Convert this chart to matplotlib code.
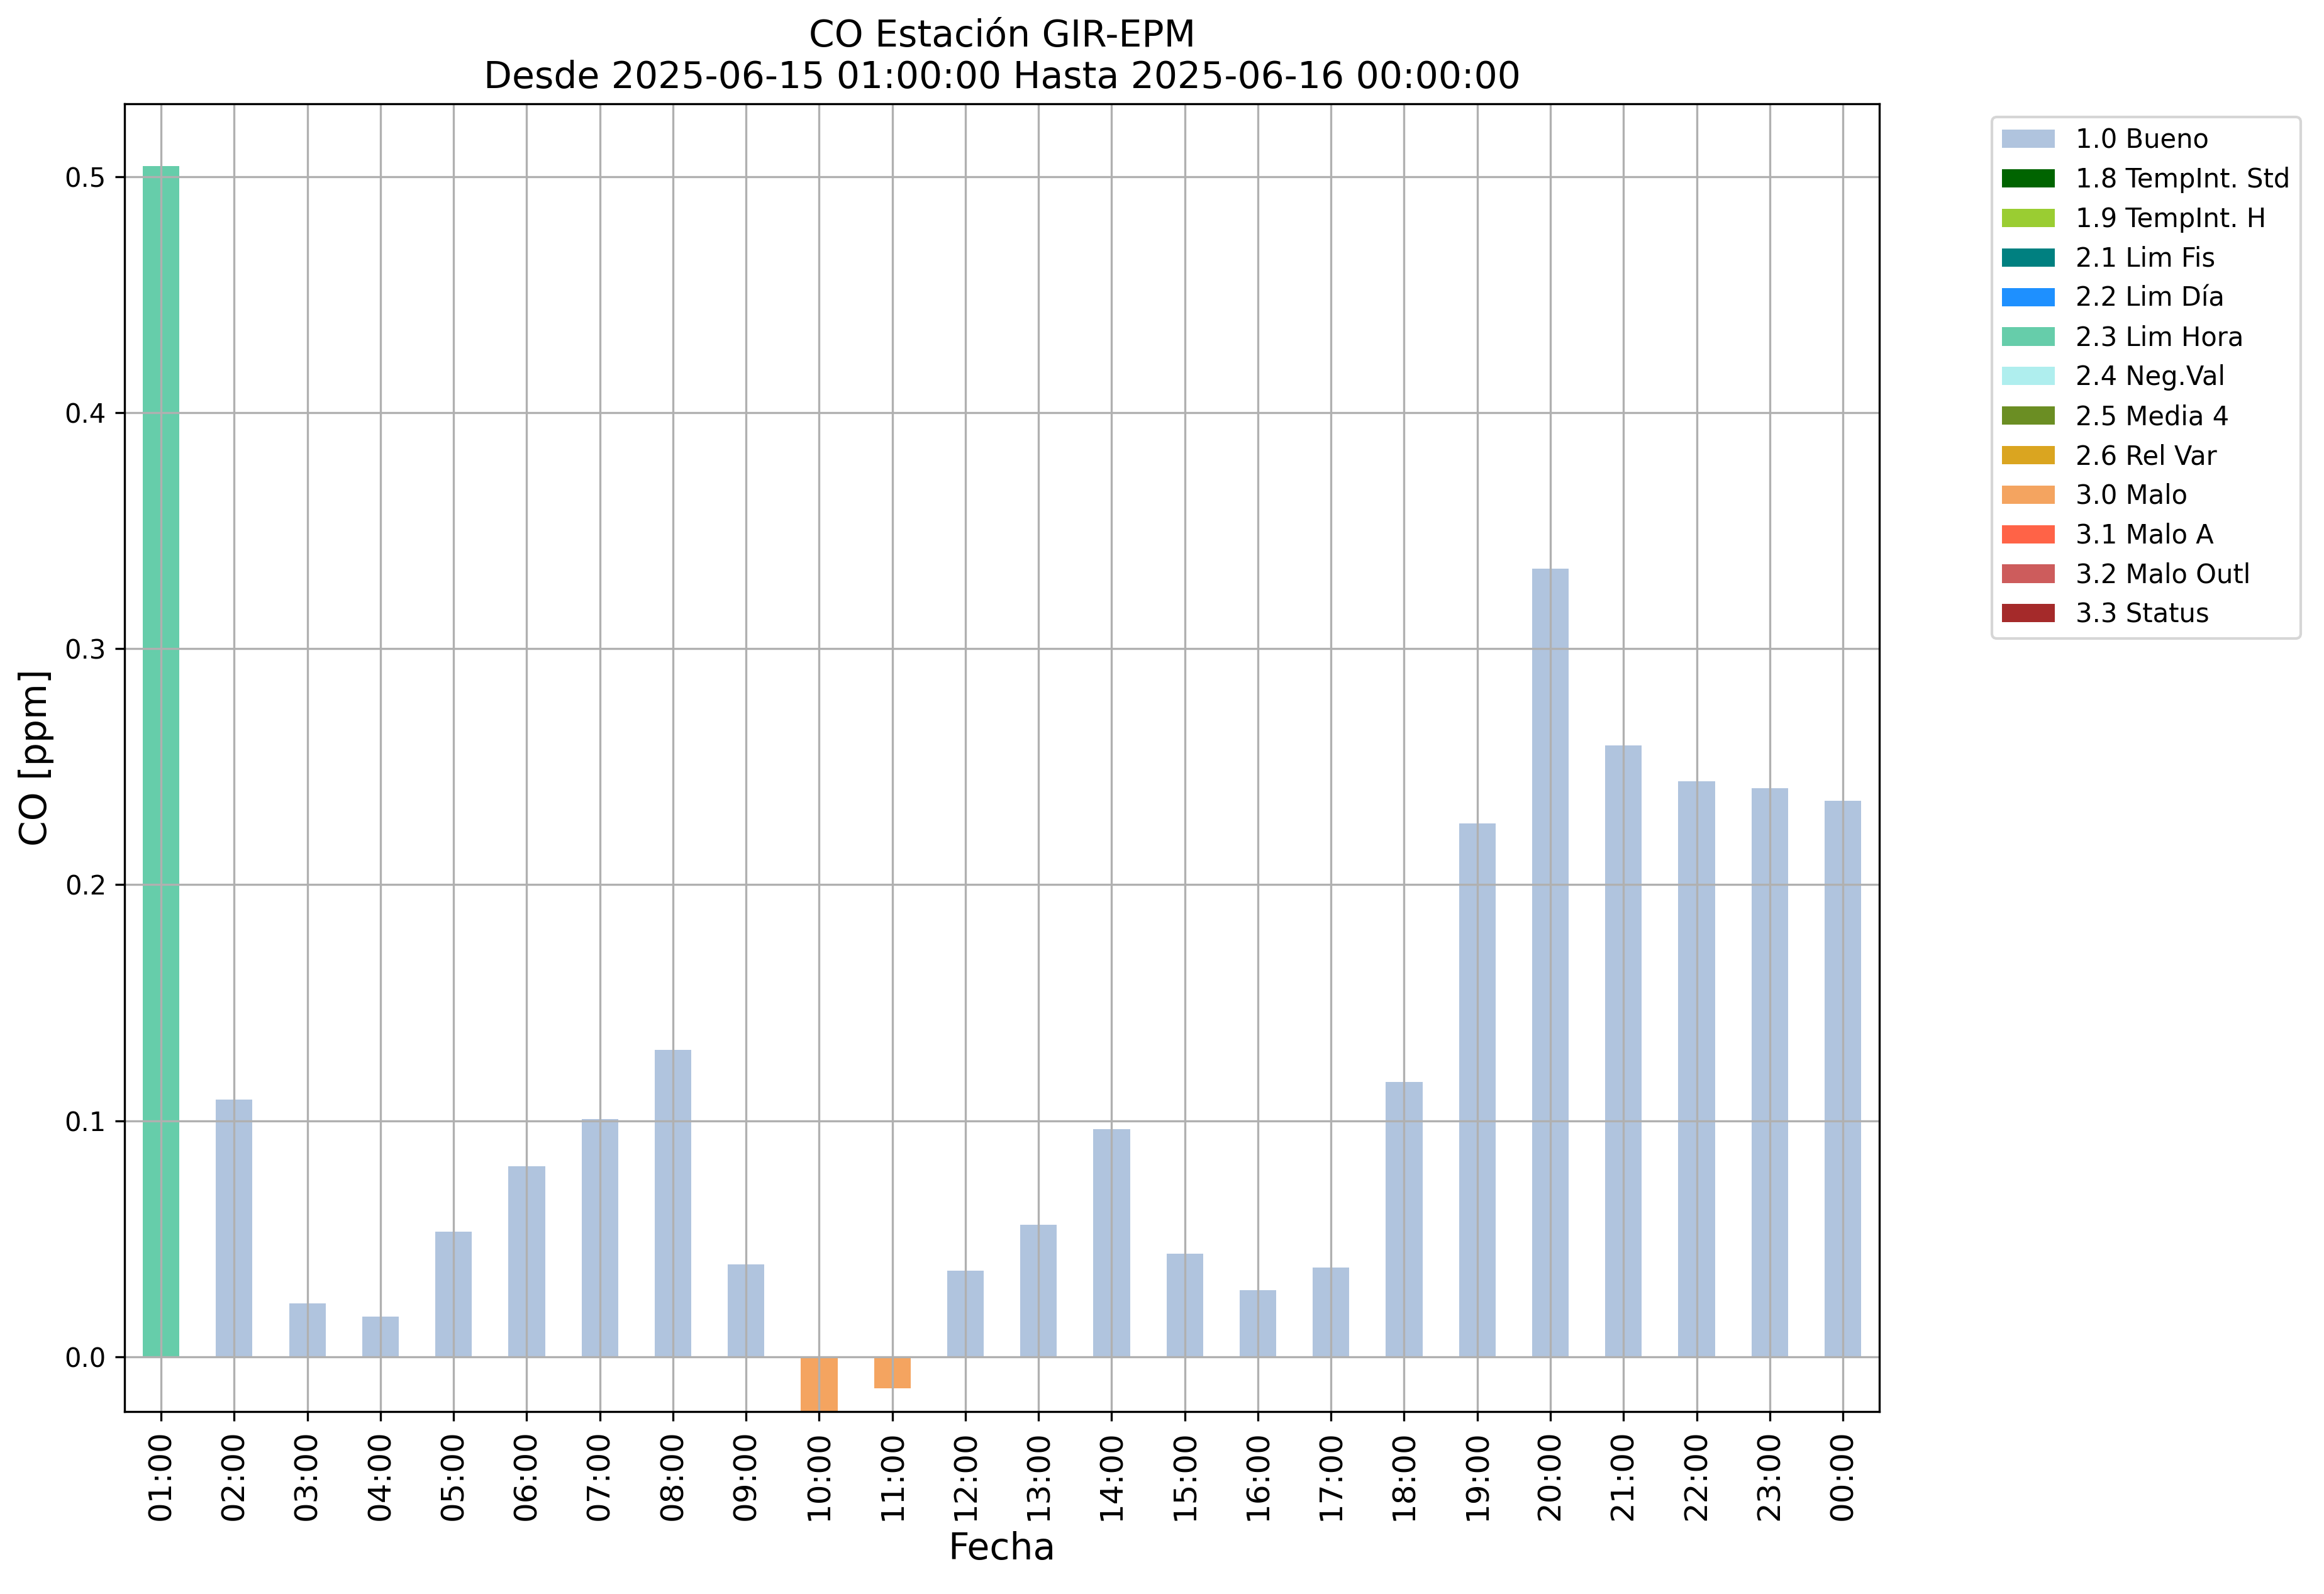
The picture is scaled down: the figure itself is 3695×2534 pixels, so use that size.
import numpy as np
import matplotlib
matplotlib.use('Agg')
from matplotlib import pyplot as plt

# hourly CO values and the quality flag of each hour
horas = ['01:00', '02:00', '03:00', '04:00', '05:00', '06:00', '07:00', '08:00',
         '09:00', '10:00', '11:00', '12:00', '13:00', '14:00', '15:00', '16:00',
         '17:00', '18:00', '19:00', '20:00', '21:00', '22:00', '23:00', '00:00']
co = [0.5045, 0.109, 0.0227, 0.017, 0.0529, 0.0806, 0.1008, 0.130,
      0.039, -0.0233, -0.0133, 0.0365, 0.056, 0.0963, 0.0435, 0.0283,
      0.0378, 0.1165, 0.226, 0.334, 0.259, 0.2437, 0.241, 0.2355]
flags = ['2.3 Lim Hora', '1.0 Bueno', '1.0 Bueno', '1.0 Bueno', '1.0 Bueno', '1.0 Bueno',
         '1.0 Bueno', '1.0 Bueno', '1.0 Bueno', '3.0 Malo', '3.0 Malo', '1.0 Bueno',
         '1.0 Bueno', '1.0 Bueno', '1.0 Bueno', '1.0 Bueno', '1.0 Bueno', '1.0 Bueno',
         '1.0 Bueno', '1.0 Bueno', '1.0 Bueno', '1.0 Bueno', '1.0 Bueno', '1.0 Bueno']

categorias = ['1.0 Bueno', '1.8 TempInt. Std', '1.9 TempInt. H', '2.1 Lim Fis',
              '2.2 Lim Día', '2.3 Lim Hora', '2.4 Neg.Val', '2.5 Media 4',
              '2.6 Rel Var', '3.0 Malo', '3.1 Malo A', '3.2 Malo Outl', '3.3 Status']
colores = ['lightsteelblue', 'darkgreen', 'yellowgreen', 'teal', 'dodgerblue',
           'mediumaquamarine', 'paleturquoise', 'olivedrab', 'goldenrod',
           'sandybrown', 'tomato', 'indianred', 'brown']

fig = plt.figure(figsize=(3695 / 300, 2534 / 300), dpi=300)
ax = fig.add_axes([0.0536, 0.1144, 0.7551, 0.8205])

x = np.arange(len(horas))
valores = np.array(co)
for cat, col in zip(categorias, colores):
    serie = np.where(np.array(flags) == cat, valores, 0.0)
    ax.bar(x, serie, width=0.5, color=col, label=cat)

ax.grid(True)
ax.set_xlim(-0.5, len(horas) - 0.5)
rango = valores.max() - valores.min()
ax.set_ylim(valores.min(), valores.max() + 0.05 * rango)
ax.set_xticks(x)
ax.set_xticklabels(horas, rotation=90, fontsize=12)
ax.tick_params(axis='y', labelsize=10)
ax.set_xlabel('Fecha', fontsize=14)
ax.set_ylabel('CO [ppm]', fontsize=14)
ax.set_title('CO Estación GIR-EPM\nDesde 2025-06-15 01:00:00 Hasta 2025-06-16 00:00:00', fontsize=14)
ax.legend(bbox_to_anchor=(1.0565, 1), loc='upper left', fontsize=10)

fig.savefig('out.png', dpi=300)
